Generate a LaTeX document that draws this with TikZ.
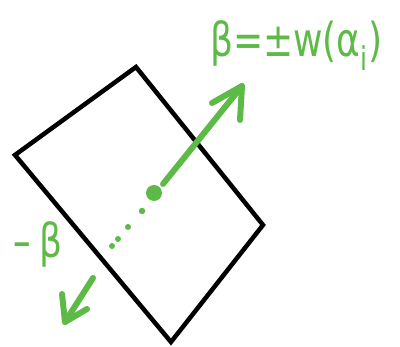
\documentclass[tikz,border=0pt]{standalone}
\usepackage{fontspec}
\setmainfont{DejaVu Sans}
\usepackage{graphicx}
\definecolor{pen}{RGB}{94,186,71}
\begin{document}
\begin{tikzpicture}[x=1pt,y=-1pt,
  box/.style={draw=black,line width=4.5pt,line join=miter},
  ink/.style={draw=pen,line width=6pt,line cap=round,line join=round},
  dotmark/.style={circle,fill=pen,inner sep=0pt,minimum size=#1},
  lbl/.style={text=pen,font=\fontsize{36}{40}\selectfont,inner sep=0pt,anchor=base west}]
\useasboundingbox (0,0) rectangle (400,347);
% rectangle corners
\coordinate (cl) at (15,155);
\coordinate (ct) at (136,67);
\coordinate (cr) at (263,225);
\coordinate (cb) at (171,342);
\draw[box] (cl) -- (ct) -- (cr) -- (cb) -- cycle;
% centre dot
\node[dotmark=16pt] (c) at (154,193) {};
% beta arrow
\coordinate (s1) at (163,184);
\coordinate (t1) at (242,86);
\coordinate (a1) at (212,103);
\coordinate (b1) at (240,120);
\draw[ink] (s1) -- (t1);
\draw[ink] (a1) -- (t1) -- (b1);
% dotted continuation
\node[dotmark=6.5pt] (d1) at (142,211) {};
\node[dotmark=6pt] (d2) at (128,227) {};
\node[dotmark=6pt] (d3) at (118,239) {};
\node[dotmark=6pt] (d4) at (112,246) {};
% -beta arrow
\coordinate (s2) at (93,278);
\coordinate (t2) at (65,322);
\coordinate (a2) at (62,294);
\coordinate (b2) at (87,309);
\draw[ink] (s2) -- (t2);
\draw[ink] (a2) -- (t2) -- (b2);
% labels
\node[lbl] (L1) at (210,57) {\scalebox{1}[1.3]{β=±w(α\textsubscript{i})}};
\node[lbl] (L2) at (12,258) {\scalebox{1}[1.3]{\scalebox{1.5}[1]{-}\hspace{8pt}β}};
\end{tikzpicture}
\end{document}
